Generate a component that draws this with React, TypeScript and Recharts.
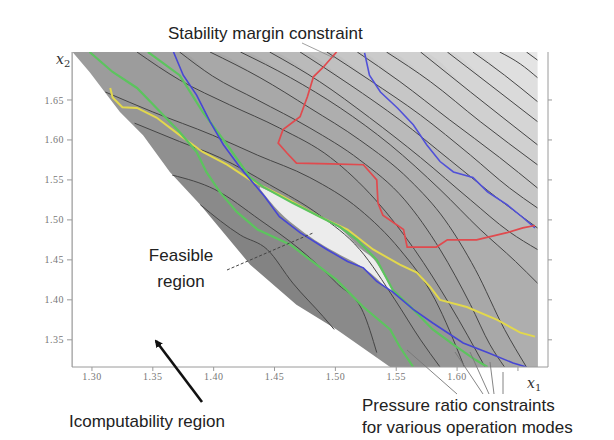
import React from 'react';
import { ComposedChart, Area, Line, XAxis, YAxis } from 'recharts';

type P = [number, number];

const X_MIN = 1.2836;
const X_MAX = 1.6747;
const Y_MIN = 1.316;
const Y_MAX = 1.71;

const xTicks = [1.3, 1.35, 1.4, 1.45, 1.5, 1.55, 1.6, 1.65];
const yTicks = [1.35, 1.4, 1.45, 1.5, 1.55, 1.6, 1.65];

// background extent of the computed field
const fieldTop: P[] = [[1.284, 1.71], [1.666, 1.71]];

// contour lines that start on the top edge (upper-right first)
const k1: P[] = [[1.657, 1.71], [1.666, 1.7]];
const k2: P[] = [[1.635, 1.71], [1.652, 1.695], [1.666, 1.678]];
const k3: P[] = [[1.613, 1.71], [1.639, 1.681], [1.666, 1.648]];
const k4: P[] = [[1.592, 1.71], [1.627, 1.669], [1.666, 1.623]];
const k5: P[] = [[1.57, 1.71], [1.611, 1.66], [1.666, 1.594]];
const k6: P[] = [[1.542, 1.71], [1.578, 1.673], [1.619, 1.623], [1.666, 1.569]];
const k7: P[] = [[1.518, 1.71], [1.553, 1.673], [1.594, 1.625], [1.635, 1.578], [1.666, 1.54]];
const k8: P[] = [[1.493, 1.71], [1.528, 1.675], [1.57, 1.631], [1.611, 1.581], [1.643, 1.54], [1.666, 1.515]];
const k9: P[] = [[1.471, 1.71], [1.512, 1.669], [1.553, 1.625], [1.594, 1.575], [1.635, 1.525], [1.666, 1.49]];
const k10: P[] = [[1.446, 1.71], [1.487, 1.673], [1.528, 1.628], [1.57, 1.578], [1.611, 1.525], [1.643, 1.485], [1.666, 1.463]];
const k11: P[] = [[1.422, 1.71], [1.463, 1.678], [1.504, 1.64], [1.545, 1.594], [1.586, 1.538], [1.619, 1.488], [1.648, 1.448], [1.666, 1.421]];
const k12: P[] = [[1.397, 1.71], [1.438, 1.678], [1.479, 1.64], [1.52, 1.6], [1.561, 1.55], [1.59, 1.5], [1.615, 1.438], [1.639, 1.363], [1.657, 1.316]];
const k13: P[] = [[1.372, 1.71], [1.399, 1.68], [1.436, 1.65], [1.479, 1.615], [1.52, 1.575], [1.557, 1.525], [1.586, 1.463], [1.611, 1.394], [1.627, 1.344], [1.639, 1.316]];
const k14: P[] = [[1.337, 1.71], [1.372, 1.675], [1.413, 1.644], [1.454, 1.615], [1.496, 1.578], [1.533, 1.525], [1.565, 1.463], [1.594, 1.394], [1.623, 1.316]];

// contour lines that start on the computability boundary
const k15: P[] = [[1.311, 1.66], [1.35, 1.635], [1.399, 1.606], [1.436, 1.581], [1.479, 1.553], [1.52, 1.513], [1.553, 1.463], [1.582, 1.4], [1.606, 1.316]];
const k16: P[] = [[1.335, 1.621], [1.372, 1.598], [1.405, 1.578], [1.446, 1.544], [1.487, 1.506], [1.52, 1.463], [1.549, 1.4], [1.57, 1.35], [1.586, 1.316]];
const k17: P[] = [[1.366, 1.556], [1.401, 1.538], [1.438, 1.5], [1.471, 1.463], [1.501, 1.421], [1.523, 1.384], [1.534, 1.334]];
const k18: P[] = [[1.389, 1.519], [1.422, 1.481], [1.444, 1.463], [1.465, 1.421], [1.49, 1.379], [1.499, 1.363]];

// edge of the computability region (white, lower left)
const computableEdge: P[] = [[1.284, 1.71], [1.298, 1.685], [1.323, 1.635], [1.342, 1.606], [1.364, 1.56], [1.389, 1.519], [1.43, 1.444], [1.468, 1.394], [1.501, 1.363], [1.545, 1.316]];

// feasible region
const feasX = [1.438, 1.454, 1.471, 1.487, 1.504, 1.52, 1.533, 1.541, 1.547];
const feasHi = [1.541, 1.53, 1.518, 1.504, 1.489, 1.465, 1.448, 1.428, 1.41];
const feasLo = [1.539, 1.51, 1.488, 1.471, 1.456, 1.443, 1.428, 1.416, 1.409];

// constraints
const stabilityMargin: P[] = [[1.501, 1.71], [1.49, 1.691], [1.482, 1.679], [1.477, 1.654], [1.471, 1.629], [1.457, 1.613], [1.453, 1.596], [1.46, 1.584], [1.468, 1.571], [1.496, 1.57], [1.523, 1.569], [1.534, 1.55], [1.535, 1.521], [1.539, 1.506], [1.556, 1.488], [1.559, 1.466], [1.583, 1.466], [1.592, 1.475], [1.616, 1.475], [1.641, 1.484], [1.654, 1.49], [1.664, 1.493]];
const pressureBlueA: P[] = [[1.524, 1.709], [1.528, 1.681], [1.537, 1.66], [1.551, 1.64], [1.564, 1.619], [1.575, 1.594], [1.586, 1.573], [1.597, 1.56], [1.613, 1.553], [1.625, 1.535], [1.641, 1.519], [1.654, 1.503], [1.664, 1.49]];
const pressureBlueB: P[] = [[1.367, 1.71], [1.375, 1.681], [1.386, 1.656], [1.397, 1.623], [1.408, 1.594], [1.422, 1.565], [1.436, 1.54], [1.442, 1.529], [1.454, 1.504], [1.471, 1.484], [1.493, 1.463], [1.51, 1.448], [1.523, 1.44], [1.534, 1.423], [1.547, 1.41], [1.564, 1.388], [1.58, 1.371], [1.605, 1.346], [1.625, 1.334], [1.646, 1.321], [1.657, 1.316]];
const pressureGreenA: P[] = [[1.298, 1.71], [1.317, 1.685], [1.337, 1.665], [1.353, 1.64], [1.372, 1.61], [1.386, 1.585], [1.394, 1.56], [1.405, 1.535], [1.419, 1.51], [1.436, 1.488], [1.463, 1.469], [1.501, 1.425], [1.523, 1.391], [1.545, 1.363], [1.553, 1.341], [1.564, 1.316]];
const pressureGreenB: P[] = [[1.346, 1.71], [1.372, 1.681], [1.391, 1.635], [1.411, 1.594], [1.43, 1.553], [1.441, 1.541], [1.465, 1.521], [1.504, 1.491], [1.518, 1.475], [1.534, 1.45], [1.547, 1.413], [1.564, 1.388], [1.58, 1.363], [1.597, 1.344], [1.615, 1.325], [1.625, 1.316]];
const pressureYellow: P[] = [[1.315, 1.665], [1.317, 1.653], [1.325, 1.641], [1.337, 1.64], [1.353, 1.628], [1.372, 1.606], [1.391, 1.585], [1.411, 1.569], [1.43, 1.55], [1.457, 1.529], [1.487, 1.504], [1.51, 1.488], [1.531, 1.463], [1.553, 1.444], [1.567, 1.434], [1.578, 1.416], [1.586, 1.4], [1.608, 1.391], [1.633, 1.375], [1.652, 1.359], [1.664, 1.354]];

const toPts = (a: P[]) => a.map(([x, y]) => ({ x, y }));
const withCorner = (a: P[]) => toPts([[X_MIN, Y_MAX] as P, ...a]);

const topContours = [k1, k2, k3, k4, k5, k6, k7, k8, k9, k10, k11, k12, k13, k14];
const innerContours = [k15, k16, k17, k18];
const bandFills = ['#e4e4e4', '#dfdfdf', '#dadada', '#d5d5d5', '#d0d0d0', '#cbcbcb', '#c6c6c6', '#c0c0c0', '#bababa', '#b4b4b4', '#aeaeae', '#a8a8a8', '#a2a2a2', '#9c9c9c', '#969696', '#909090', '#8a8a8a', '#838383'];

const feasible = feasX.map((x, i) => ({ x, lo: feasLo[i], hi: feasHi[i] }));

const constraintLines: { data: P[]; color: string; w: number }[] = [
  { data: pressureYellow, color: '#e2d84c', w: 2 },
  { data: pressureGreenA, color: '#5cc45e', w: 2.2 },
  { data: pressureGreenB, color: '#5cc45e', w: 2.2 },
  { data: pressureBlueB, color: '#4646d4', w: 1.6 },
  { data: pressureBlueA, color: '#5050d8', w: 1.6 },
  { data: stabilityMargin, color: '#e04a4e', w: 1.7 },
];

const tickStyle = { fontSize: 10, fill: '#777', letterSpacing: 0.5 };
const FONT = '"Liberation Sans", Arial, sans-serif';

export default function App() {
  return (
    <div style={{ position: 'absolute', left: 0, top: 0, width: 614, height: 440, background: '#fff' }}>
      <ComposedChart width={614} height={440} margin={{ top: 52, right: 56, left: 0, bottom: 43 }}>
        <XAxis
          type="number"
          dataKey="x"
          domain={[X_MIN, X_MAX]}
          ticks={xTicks}
          interval={0}
          allowDataOverflow
          tickFormatter={(v: number) => (v > 1.64 ? '' : v.toFixed(2))}
          tick={tickStyle}
          stroke="#9a9a9a"
          tickSize={4}
          tickMargin={2}
          height={30}
        />
        <XAxis
          xAxisId="top"
          orientation="top"
          type="number"
          dataKey="x"
          domain={[X_MIN, X_MAX]}
          ticks={xTicks}
          interval={0}
          allowDataOverflow
          tickFormatter={() => ''}
          stroke="#9a9a9a"
          tickSize={4}
          height={0}
        />
        <YAxis
          type="number"
          domain={[Y_MIN, Y_MAX]}
          ticks={yTicks}
          interval={0}
          allowDataOverflow
          tickFormatter={(v: number) => v.toFixed(2)}
          tick={tickStyle}
          stroke="#9a9a9a"
          tickSize={5}
          tickMargin={3}
          width={72}
        />
        <YAxis
          yAxisId="right"
          orientation="right"
          type="number"
          domain={[Y_MIN, Y_MAX]}
          ticks={yTicks}
          interval={0}
          allowDataOverflow
          tickFormatter={() => ''}
          stroke="#9a9a9a"
          tickSize={4}
          width={10}
        />

        <Area data={toPts(fieldTop)} dataKey="y" type="linear" fill="#e9e9e9" fillOpacity={1} stroke="none" isAnimationActive={false} />
        {topContours.map((c, i) => (
          <Area key={'ta' + i} data={withCorner(c)} dataKey="y" type="monotone" fill={bandFills[i]} fillOpacity={1} stroke="none" isAnimationActive={false} />
        ))}
        {innerContours.map((c, i) => (
          <Area key={'ia' + i} data={toPts(c)} dataKey="y" type="monotone" fill={bandFills[14 + i]} fillOpacity={1} stroke="none" isAnimationActive={false} />
        ))}
        <Area data={toPts(computableEdge)} dataKey="y" type="linear" fill="#ffffff" fillOpacity={1} stroke="none" isAnimationActive={false} />
        {[...topContours, ...innerContours].map((c, i) => (
          <Line key={'cl' + i} data={toPts(c)} dataKey="y" type="monotone" stroke="#454545" strokeWidth={1} dot={false} isAnimationActive={false} />
        ))}
        <Area data={feasible} dataKey={(d: any) => [d.lo, d.hi]} type="monotone" fill="#ececec" fillOpacity={1} stroke="none" isAnimationActive={false} />
        {constraintLines.map((c, i) => (
          <Line key={'k' + i} data={toPts(c.data)} dataKey="y" type="linear" stroke={c.color} strokeWidth={c.w} dot={false} isAnimationActive={false} />
        ))}
      </ComposedChart>

      <svg width={614} height={440} style={{ position: 'absolute', left: 0, top: 0, pointerEvents: 'none' }}>
        <defs>
          <marker id="ah" markerWidth="8" markerHeight="8" refX="6" refY="4" orient="auto" markerUnits="userSpaceOnUse">
            <path d="M0,0 L8,4 L0,8 z" fill="#111" />
          </marker>
        </defs>
        <text x={168} y={39} fontSize={17} fontFamily={FONT} fill="#222">Stability margin constraint</text>
        <line x1={302} y1={43} x2={334} y2={58} stroke="#888" strokeWidth={0.8} />

        <text x={181} y={261} fontSize={17} fontFamily={FONT} fill="#222" textAnchor="middle">Feasible</text>
        <text x={181} y={287} fontSize={17} fontFamily={FONT} fill="#222" textAnchor="middle">region</text>
        <line x1={227} y1={270} x2={313} y2={233} stroke="#444" strokeWidth={1} strokeDasharray="3 2" />

        <line x1={202} y1={402} x2={156} y2={341} stroke="#111" strokeWidth={2.6} markerEnd="url(#ah)" />
        <text x={69} y={427} fontSize={17} fontFamily={FONT} fill="#222">Icomputability region</text>

        <text x={362} y={411} fontSize={17} fontFamily={FONT} fill="#222">Pressure ratio constraints</text>
        <text x={362} y={433} fontSize={17} fontFamily={FONT} fill="#222">for various operation modes</text>
        <line x1={407} y1={350} x2={457} y2={394} stroke="#777" strokeWidth={0.9} />
        <line x1={455} y1={352} x2={483} y2={394} stroke="#777" strokeWidth={0.9} />
        <line x1={470} y1={352} x2={489} y2={394} stroke="#777" strokeWidth={0.9} />
        <line x1={490} y1={362} x2={494} y2={394} stroke="#777" strokeWidth={0.9} />
        <line x1={503} y1={372} x2={503} y2={394} stroke="#777" strokeWidth={0.9} />

        <text x={527} y={388} fontSize={14} fontFamily="'DejaVu Serif', serif" fontStyle="italic" fill="#333">
          x<tspan fontSize={10} dy={3} fontStyle="normal">1</tspan>
        </text>
        <text x={56} y={64} fontSize={14} fontFamily="'DejaVu Serif', serif" fontStyle="italic" fill="#333">
          x<tspan fontSize={10} dy={3} fontStyle="normal">2</tspan>
        </text>
      </svg>
    </div>
  );
}
